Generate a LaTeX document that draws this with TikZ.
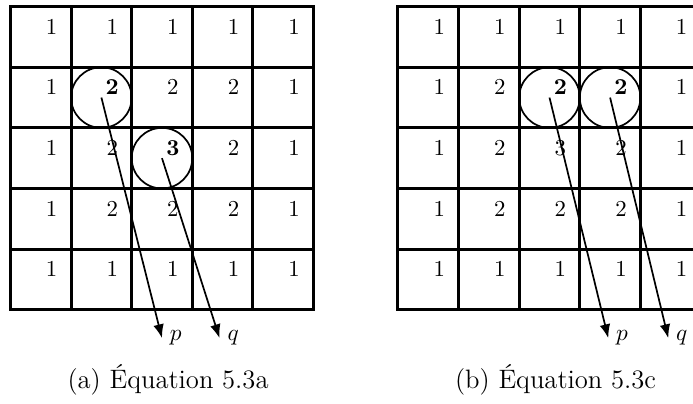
\documentclass[tikz,border=0pt]{standalone}
\usepackage{tikz}
\usetikzlibrary{arrows.meta}
\tikzset{
  cellgrid/.style={line width=1.4pt, line cap=rect},
  num/.style={anchor=base, inner sep=1pt, font=\fontsize{10.7}{13}\selectfont},
  hole/.style={circle, draw=black, thick, minimum size=1cm, inner sep=0pt},
  arrow/.style={-{Latex[length=6.5pt,width=5pt]}, thick},
  endlabel/.style={right, font=\fontsize{10.7}{13}\selectfont},
  caplabel/.style={font=\fontsize{12.5}{15}\selectfont},
}

\begin{document}
\begin{tikzpicture}
  \useasboundingbox (-0.173,0.11) rectangle (11.262,-6.54);

  % (a) equation 5.3a
  \begin{scope}
    \draw[cellgrid] (0,0) grid (5,-5);
    \foreach \row [count=\r from 0] in {{1,1,1,1,1},{1,\textbf{2},2,2,1},{1,2,\textbf{3},2,1},{1,2,2,2,1},{1,1,1,1,1}}
      \foreach \v [count=\c from 0] in \row
        \node[num] (a-\r-\c) at (\c+0.68,-\r-0.455) {\v};
    \node[hole] (ca) at (1.5,-1.5) {};
    \node[hole] (cb) at (2.5,-2.5) {};
    \coordinate (pa) at (2.5,-5.47);
    \coordinate (qa) at (3.45,-5.47);
    \draw[arrow] (ca.center) -- (pa) node[endlabel] (pa-lbl) {$p$};
    \draw[arrow] (cb.center) -- (qa) node[endlabel] (qa-lbl) {$q$};
    \node[caplabel] (cap-a) at (2.6,-6.16) {(a) \'Equation 5.3a};
  \end{scope}

  % (b) equation 5.3c
  \begin{scope}[xshift=6.394cm]
    \draw[cellgrid] (0,0) grid (5,-5);
    \foreach \row [count=\r from 0] in {{1,1,1,1,1},{1,2,\textbf{2},\textbf{2},1},{1,2,3,2,1},{1,2,2,2,1},{1,1,1,1,1}}
      \foreach \v [count=\c from 0] in \row
        \node[num] (b-\r-\c) at (\c+0.68,-\r-0.455) {\v};
    \node[hole] (cc) at (2.5,-1.5) {};
    \node[hole] (cd) at (3.5,-1.5) {};
    \coordinate (pb) at (3.47,-5.47);
    \coordinate (qb) at (4.46,-5.47);
    \draw[arrow] (cc.center) -- (pb) node[endlabel] (pb-lbl) {$p$};
    \draw[arrow] (cd.center) -- (qb) node[endlabel] (qb-lbl) {$q$};
    \node[caplabel] (cap-b) at (2.6,-6.16) {(b) \'Equation 5.3c};
  \end{scope}
\end{tikzpicture}
\end{document}
